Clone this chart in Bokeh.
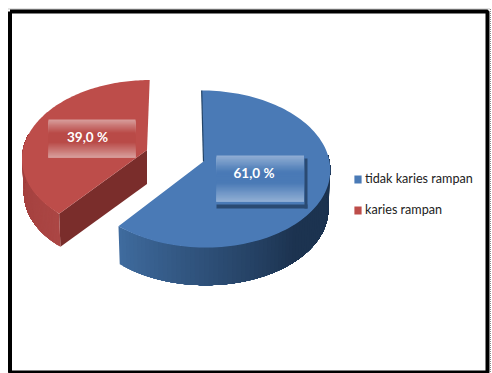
import numpy as np
from bokeh.embed import file_html
from bokeh.resources import INLINE
from bokeh.plotting import figure
from bokeh.models import Legend, LegendItem
from bokeh.core.properties import value

# Share of children in each group, in percent
categories = ["tidak karies rampan", "karies rampan"]
shares = [61.0, 39.0]
labels = ["61,0 %", "39,0 %"]
top_colors = ["#4a7ab6", "#bd4d4a"]
plate_colors = [["#8fadd3", "#4a7ab6", "#8fadd3"], ["#d79b99", "#b94a47", "#d79b99"]]

W, H = 492, 373
RX, RY, PERSP = 126.0, 77.8, 0.0955
centres = [(203.0, 161.0), (146.5, 149.5)]
shears = [-2.0, 3.0]
sizes = [1.0, 0.985]
depths = [39.0, 34.0]
SHRINK = 0.985


def rim(cx, cy, a0, a1, shear, scale=1.0, dy=0.0, n=120):
    """Points on the tilted pie's rim, angles clockwise from twelve o'clock."""
    t = np.radians(np.linspace(a0, a1, n))
    u, v = np.sin(t), np.cos(t)
    w = 1 + PERSP * v
    x = cx + scale * (RX * u + shear * v) / w
    y = cy + dy - scale * RY * v / w
    return x, y


def mix(c0, c1, f):
    a = np.array([int(c0[i:i + 2], 16) for i in (1, 3, 5)])
    b = np.array([int(c1[i:i + 2], 16) for i in (1, 3, 5)])
    r = (a + (b - a) * f).round().astype(int)
    return "#%02x%02x%02x" % tuple(r)


def side_wall(cx, cy, shear, size, depth, start, stop, colour_at, steps=60):
    """Outer wall of a slice; each layer covers the rest of the wall, so no seams show."""
    edges = np.linspace(start, stop, steps)
    for i in range(steps - 1):
        xa, ya = rim(cx, cy, edges[i], stop, shear, size)
        xc, yc = rim(cx, cy, stop, edges[i], shear, size * SHRINK, depth)
        p.patch(np.r_[xa, xc], np.r_[ya, yc], fill_color=colour_at(i / (steps - 2)), line_color=None)


p = figure(width=W, height=H, x_range=(0, W), y_range=(H, 0),
           toolbar_location=None, output_backend="svg", min_border=0,
           outline_line_color=None)
p.axis.visible = False
p.grid.visible = False

# Page frame with its thin dotted outer edge
p.line([8, 490, 490], [8.5, 8.5, 373], line_color="#8a8a8a", line_width=1, line_dash="1 1")
p.line([9.5, 487, 487, 9.5, 9.5], [11, 11, 372, 372, 11], line_color="#000000", line_width=4)

angles = np.cumsum([0.0] + [s * 3.6 for s in shares])
spans = [(angles[0], angles[1]), (angles[1], angles[2])]

# Red slice, pulled out towards the upper left
(cx, cy), (a0, a1), shear, size, depth = centres[1], spans[1], shears[1], sizes[1], depths[1]
xt, yt = rim(cx, cy, a0, a0, shear, size, n=2)
xb, yb = rim(cx, cy, a0, a0, shear, size * SHRINK, depth, n=2)
p.patch([cx, xt[0], xb[0], cx], [cy, yt[0], yb[0], cy + depth],
        fill_color="#7a2d2b", line_color=None)
side_wall(cx, cy, shear, size, depth, a0, 282, lambda f: mix("#ab4644", "#a03e3c", f))
x, y = rim(cx, cy, a0, a1, shear, size)
red_top = p.patch(np.r_[cx, x], np.r_[cy, y], fill_color=top_colors[1], line_color=None)

# Blue slice
(cx, cy), (a0, a1), shear, size, depth = centres[0], spans[0], shears[0], sizes[0], depths[0]
side_wall(cx, cy, shear, size, depth, a1, 85, lambda f: mix("#3f6b9e", "#1c3350", min(f / 0.6, 1.0)), steps=70)
x, y = rim(cx, cy, a0, a1, shear, size)
blue_top = p.patch(np.r_[cx, x], np.r_[cy, y], fill_color=top_colors[0], line_color=None)
xe, ye = rim(cx, cy, a0, a0, shear, size, n=2)
p.line([xe[0], cx], [ye[0], cy], line_color="#234468", line_width=1.2)

# Drop edge under the blue value plate
p.quad(left=[216, 304], right=[307, 307], top=[204, 158], bottom=[208, 208],
       fill_color="#2a4a72", line_color=None)

# Value plates with their vertical sheen
plates = [(216, 303.5, 155, 201, 0, 253.5, 172), (48, 135, 119, 157, 1, 87, 136)]
for l, r, t, b, k, tx, ty in plates:
    rows = np.linspace(t, b, 40)
    c0, c1, c2 = plate_colors[k]
    for j in range(len(rows) - 1):
        f = j / (len(rows) - 2)
        if f < 0.35:
            col = mix(c0, c1, f / 0.35)
        elif f < 0.6:
            col = c1
        else:
            col = mix(c1, c2, (f - 0.6) / 0.4)
        p.quad(left=[l], right=[r], top=[rows[j]], bottom=[b], fill_color=col, line_color=None)
    p.text([tx], [ty], text=[labels[k]], text_color="#ffffff", text_align="center",
           text_baseline="middle", text_font=value("Lato"), text_font_style="bold",
           text_font_size="13.5px")

legend = Legend(items=[LegendItem(label=categories[0], renderers=[blue_top]),
                       LegendItem(label=categories[1], renderers=[red_top])],
                location=(353, 156), orientation="vertical",
                background_fill_alpha=0, border_line_color=None,
                glyph_width=9, glyph_height=10, spacing=16, padding=3,
                label_text_font="Lato", label_text_font_size="12.6px",
                label_text_color="#222222", label_standoff=3, margin=0)
p.add_layout(legend, "center")

open("out.html", "w").write(file_html(p, INLINE))
